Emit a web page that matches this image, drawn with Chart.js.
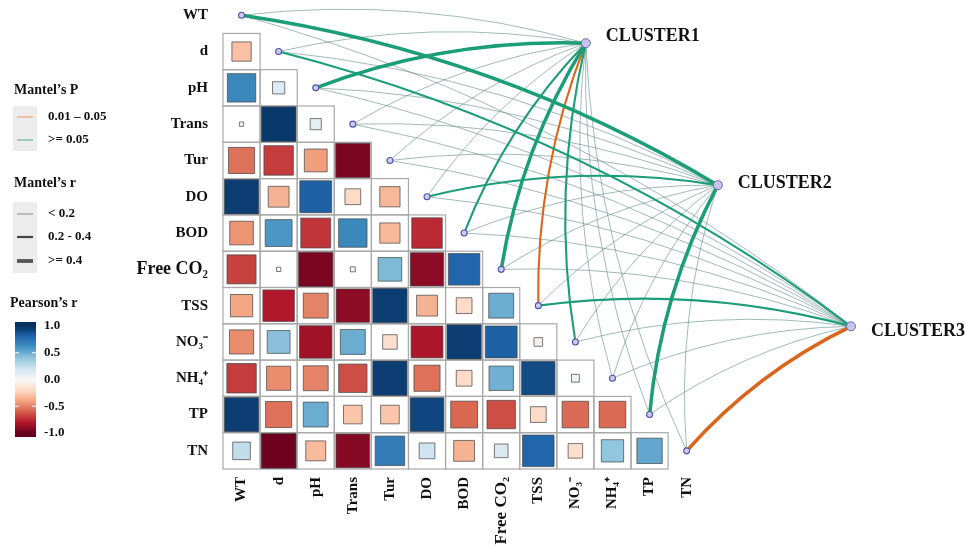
<!DOCTYPE html>
<html><head><meta charset="utf-8">
<script src="https://cdn.jsdelivr.net/npm/chart.js@4.4.1/dist/chart.umd.min.js"></script>
<style>html,body{margin:0;padding:0;background:#fff}#wrap{width:966px;height:548px}</style>
</head><body><div id="wrap"><canvas id="c" width="966" height="548"></canvas></div>
<script>
// ---------------- DATA ----------------
const variables = ["WT","d","pH","Trans","Tur","DO","BOD","Free CO\u2082","TSS","NO\u2083\u207B","NH\u2084\u207A","TP","TN"];
// Pearson's r, lower triangle: row i holds correlations with columns 0..i-1
const r_WT    = [];
const r_d     = [-0.30];
const r_pH    = [0.65, 0.12];
const r_Trans = [0.015, 0.97, 0.10];
const r_Tur   = [-0.55, -0.70, -0.42, -0.95];
const r_DO    = [0.95, -0.35, 0.82, -0.20, -0.33];
const r_BOD   = [-0.45, 0.58, -0.72, 0.65, -0.33, -0.75];
const r_CO2   = [-0.68, 0.015, -0.95, 0.02, 0.45, -0.90, 0.80];
const r_TSS   = [-0.40, -0.80, -0.50, -0.90, 0.95, -0.35, -0.20, 0.50];
const r_NO3   = [-0.47, 0.42, -0.85, 0.50, -0.17, -0.82, 0.95, 0.82, -0.06];
const r_NH4   = [-0.70, -0.47, -0.50, -0.65, 0.95, -0.55, -0.20, 0.48, 0.90, 0.05];
const r_TP    = [0.95, -0.55, 0.50, -0.28, -0.28, 0.92, -0.58, -0.65, -0.20, -0.57, -0.57];
const r_TN    = [0.25, -0.98, -0.32, -0.92, 0.70, 0.20, -0.35, 0.15, 0.80, -0.17, 0.40, 0.52];
const corrRows = [r_WT, r_d, r_pH, r_Trans, r_Tur, r_DO, r_BOD, r_CO2, r_TSS, r_NO3, r_NH4, r_TP, r_TN];

const clusters = ["CLUSTER1","CLUSTER2","CLUSTER3"];
// Mantel's r and p of each variable against each cluster (order = variables)
const mantelR_C1 = [0.12, 0.15, 0.45, 0.10, 0.10, 0.12, 0.30, 0.45, 0.30, 0.30, 0.10, 0.10, 0.10];
const mantelP_C1 = [0.30, 0.30, 0.08, 0.40, 0.40, 0.30, 0.10, 0.07, 0.03, 0.10, 0.40, 0.40, 0.40];
const mantelR_C2 = [0.45, 0.10, 0.10, 0.10, 0.10, 0.30, 0.10, 0.10, 0.10, 0.10, 0.10, 0.45, 0.10];
const mantelP_C2 = [0.07, 0.40, 0.40, 0.40, 0.40, 0.10, 0.40, 0.40, 0.40, 0.40, 0.40, 0.07, 0.40];
const mantelR_C3 = [0.10, 0.30, 0.10, 0.10, 0.10, 0.10, 0.10, 0.10, 0.30, 0.10, 0.10, 0.10, 0.45];
const mantelP_C3 = [0.40, 0.10, 0.40, 0.40, 0.40, 0.40, 0.40, 0.40, 0.10, 0.40, 0.40, 0.40, 0.02];
const mantelR = [mantelR_C1, mantelR_C2, mantelR_C3];
const mantelP = [mantelP_C1, mantelP_C2, mantelP_C3];

// ---------------- LAYOUT (grid units) ----------------
const clusterAnchor = [{x:9.28,y:0.77},{x:12.84,y:4.68},{x:16.43,y:8.57}];
const clusterLabelDy = [-7,-2,5];

// ---------------- STYLE ----------------
const SERIF = '"Liberation Serif","Times New Roman",serif';
const rdbuStops = ["#67001F","#B2182B","#D6604D","#F4A582","#FDDBC7","#F7F7F7","#D1E5F0","#92C5DE","#4393C3","#2166AC","#053061"];
function hex(h){return [parseInt(h.slice(1,3),16),parseInt(h.slice(3,5),16),parseInt(h.slice(5,7),16)];}
function rdbu(v){
  v=Math.max(-1,Math.min(1,v));
  const p=(v+1)/2*10, i=Math.min(9,Math.floor(p)), t=p-i;
  const a=hex(rdbuStops[i]), b=hex(rdbuStops[i+1]);
  return `rgb(${a.map((c,k)=>Math.round(c+(b[k]-c)*t)).join(',')})`;
}
const GREEN="#1b9e77", ORANGE="#d9661a";

const cellPoints=[];
corrRows.forEach((row,i)=>row.forEach((v,j)=>cellPoints.push({x:j,y:i,v:v})));
const diagPoints = variables.map((_,i)=>({x:i,y:i}));

function cellPx(chart){
  const s=chart.scales;
  return {w:Math.abs(s.x.getPixelForValue(1)-s.x.getPixelForValue(0)),
          h:Math.abs(s.y.getPixelForValue(1)-s.y.getPixelForValue(0))};
}
function squareRadius(c){const p=cellPx(c.chart); return Math.sqrt(Math.abs(c.raw.v))*Math.min(p.w,p.h)*0.97/Math.SQRT2;}

const backPlugin = {
  id:'back',
  beforeDatasetsDraw(chart){
    const {ctx, scales:{x,y}} = chart;
    ctx.save();
    // cell outlines
    ctx.strokeStyle='#a9a9a9'; ctx.lineWidth=1.2;
    corrRows.forEach((row,i)=>row.forEach((v,j)=>{
      const x0=x.getPixelForValue(j-0.5), x1=x.getPixelForValue(j+0.5);
      const y0=y.getPixelForValue(i-0.5), y1=y.getPixelForValue(i+0.5);
      ctx.strokeRect(x0,y0,x1-x0,y1-y0);
    }));
    // mantel links
    const links=[];
    clusters.forEach((c,ci)=>variables.forEach((vn,vi)=>{
      const r=mantelR[ci][vi], p=mantelP[ci][vi];
      const cls = r<0.2?0:(r<0.4?1:2);
      links.push({ci,vi,cls,col: p<0.05?ORANGE:GREEN});
    }));
    links.sort((a,b)=>a.cls-b.cls);
    links.forEach(l=>{
      const p0={x:x.getPixelForValue(l.vi), y:y.getPixelForValue(l.vi)};
      const a=clusterAnchor[l.ci];
      const p1={x:x.getPixelForValue(a.x), y:y.getPixelForValue(a.y)};
      const dx=p1.x-p0.x, dy=p1.y-p0.y;
      const cx=(p0.x+p1.x)/2+0.1*dy, cy=(p0.y+p1.y)/2-0.1*dx;
      ctx.beginPath(); ctx.moveTo(p0.x,p0.y); ctx.quadraticCurveTo(cx,cy,p1.x,p1.y);
      if(l.cls===0){ ctx.strokeStyle = l.col===GREEN ? 'rgba(95,140,130,0.7)' : ORANGE; ctx.lineWidth=0.85; }
      else { ctx.strokeStyle=l.col; ctx.lineWidth = l.cls===1?2.1:3.5; }
      ctx.stroke();
    });
    ctx.restore();
  },
  afterDraw(chart){
    const {ctx, scales:{x,y}} = chart;
    ctx.save();
    // cluster labels
    ctx.fillStyle='#111'; ctx.font=`bold 18px ${SERIF}`; ctx.textBaseline='middle'; ctx.textAlign='left';
    clusters.forEach((c,ci)=>{
      const a=clusterAnchor[ci];
      ctx.fillText(c, x.getPixelForValue(a.x)+20, y.getPixelForValue(a.y)+clusterLabelDy[ci]);
    });
    // legends
    ctx.font=`bold 14px ${SERIF}`;
    ctx.fillText("Mantel\u2019s P", 14, 90);
    ctx.fillStyle='#ececec'; ctx.fillRect(13,106,24,45);
    const seg=(yy,col,w)=>{ctx.beginPath();ctx.moveTo(17,yy);ctx.lineTo(33,yy);ctx.strokeStyle=col;ctx.lineWidth=w;ctx.stroke();};
    seg(117,'#f1a77a',1.2); seg(140,'#6fb5a0',1.2);
    ctx.fillStyle='#111'; ctx.font=`bold 13px ${SERIF}`;
    ctx.fillText("0.01 \u2013 0.05",48,117); ctx.fillText(">= 0.05",48,140);
    ctx.font=`bold 14px ${SERIF}`;
    ctx.fillText("Mantel\u2019s r", 14, 183);
    ctx.fillStyle='#ececec'; ctx.fillRect(13,202,24,71);
    seg(214,'#8a8a8a',1); seg(237,'#444',2.2); seg(261,'#555',3.8);
    ctx.fillStyle='#111'; ctx.font=`bold 13px ${SERIF}`;
    ctx.fillText("< 0.2",48,214); ctx.fillText("0.2 - 0.4",48,237); ctx.fillText(">= 0.4",48,261);
    ctx.font=`bold 14px ${SERIF}`;
    ctx.fillText("Pearson\u2019s r", 10, 303);
    const top=322, bot=437, yOf=v=>379.5-v*53.5;
    const g=ctx.createLinearGradient(0,yOf(1),0,yOf(-1));
    rdbuStops.slice().reverse().forEach((c,k)=>g.addColorStop(k/10,c));
    ctx.fillStyle=g; ctx.fillRect(15,top,21,bot-top);
    ctx.strokeStyle='#fff'; ctx.lineWidth=1;
    [0.5,0,-0.5].forEach(v=>{const yy=yOf(v);ctx.beginPath();ctx.moveTo(15,yy);ctx.lineTo(19,yy);ctx.moveTo(32,yy);ctx.lineTo(36,yy);ctx.stroke();});
    ctx.fillStyle='#111'; ctx.font=`bold 13px ${SERIF}`;
    [[1,"1.0"],[0.5,"0.5"],[0,"0.0"],[-0.5,"-0.5"],[-1,"-1.0"]].forEach(([v,t])=>ctx.fillText(t,44,yOf(v)));
    ctx.restore();
  }
};

const chart = new Chart(document.getElementById('c'), {
  type:'scatter',
  data:{datasets:[
    { label:'clusters', data:clusterAnchor, pointRadius:4.5, pointHoverRadius:4.5,
      pointBackgroundColor:'#c9c4ea', pointBorderColor:'#6a68b5', pointBorderWidth:1, clip:false },
    { label:'variables', data:diagPoints, pointRadius:3, pointHoverRadius:3,
      pointBackgroundColor:'#cfcaf0', pointBorderColor:'#4f52a8', pointBorderWidth:1.1, clip:false },
    { label:'pearson', data:cellPoints, pointStyle:'rect',
      pointRadius: squareRadius, pointHoverRadius: squareRadius,
      pointBackgroundColor: c=>rdbu(c.raw.v), pointHoverBackgroundColor: c=>rdbu(c.raw.v),
      pointBorderColor:'rgba(70,70,70,0.8)', pointBorderWidth:0.9 }
  ]},
  options:{
    responsive:false, animation:false, events:[],
    layout:{padding:0, autoPadding:false},
    plugins:{legend:{display:false}, tooltip:{enabled:false}},
    scales:{
      x:{ type:'linear', min:-0.5, max:19.53,
          grid:{display:false, drawTicks:false}, border:{display:false},
          afterBuildTicks: s=>{ s.ticks = variables.map((_,i)=>({value:i})); },
          afterFit: s=>{ s.height = 79; s.paddingLeft=0; s.paddingRight=0; s.paddingTop=0; s.paddingBottom=0; },
          ticks:{ autoSkip:false, minRotation:90, maxRotation:90, padding:8, color:'#111',
                  callback:(v)=>variables[v],
                  font: c=>({family:SERIF, weight:'bold', size: (c.tick && c.tick.value===7)?17:15}) } },
      y:{ type:'linear', reverse:true, min:-0.42, max:12.5,
          grid:{display:false, drawTicks:false}, border:{display:false},
          afterBuildTicks: s=>{ s.ticks = variables.map((_,i)=>({value:i})); },
          afterFit: s=>{ s.width = 223; s.paddingLeft=0; s.paddingRight=0; s.paddingTop=0; s.paddingBottom=0; },
          ticks:{ autoSkip:false, padding:15, color:'#111',
                  callback:(v)=>variables[v],
                  font: c=>({family:SERIF, weight:'bold', size: (c.tick && c.tick.value===7)?18:15}) } }
    }
  },
  plugins:[backPlugin]
});
</script></body></html>
